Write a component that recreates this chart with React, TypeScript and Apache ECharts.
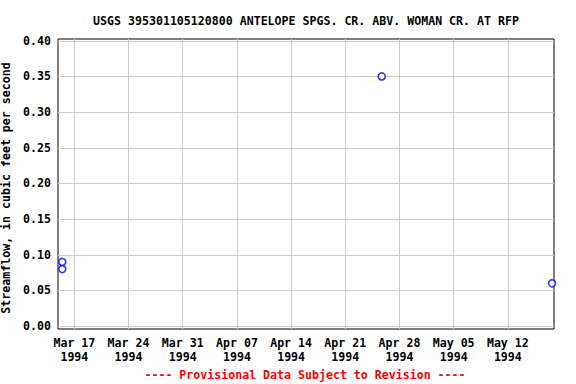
import React, { useEffect, useRef } from "react";
import * as echarts from "echarts";

const TITLE = "USGS 395301105120800 ANTELOPE SPGS. CR. ABV. WOMAN CR. AT RFP";
const Y_NAME = "Streamflow, in cubic feet per second";
const FOOTER = "---- Provisional Data Subject to Revision ----";

const obsTimes = ["1994-03-15T10:30:00Z", "1994-03-15T10:30:00Z", "1994-04-25T17:00:00Z", "1994-05-17T17:00:00Z"];
const obsValues = [0.09, 0.08, 0.35, 0.06];

const xTickDates = ["1994-03-17", "1994-03-24", "1994-03-31", "1994-04-07", "1994-04-14", "1994-04-21", "1994-04-28", "1994-05-05", "1994-05-12"];
const yTicks = [0, 0.05, 0.1, 0.15, 0.2, 0.25, 0.3, 0.35, 0.4];
const xRange = ["1994-03-14T21:17:00Z", "1994-05-17T23:07:00Z"];
const yRange = [-0.004, 0.4025];

const MONTHS = ["Jan", "Feb", "Mar", "Apr", "May", "Jun", "Jul", "Aug", "Sep", "Oct", "Nov", "Dec"];
const FONT = "DejaVu Sans Mono";

export default function App() {
  const ref = useRef<HTMLDivElement>(null);
  useEffect(() => {
    const chart = echarts.init(ref.current!, null, { renderer: "svg" });
    const xTickVals = xTickDates.map((d) => Date.parse(d + "T00:00:00Z"));
    chart.setOption({
      animation: false,
      backgroundColor: "#fff",
      textStyle: { fontFamily: FONT },
      graphic: [
        {
          type: "text",
          x: 306,
          y: 20.5,
          style: {
            text: TITLE,
            fill: "#000",
            font: `bold 11.6px "${FONT}"`,
            textAlign: "center",
            textVerticalAlign: "middle",
          },
        },
        {
          type: "text",
          x: 305,
          y: 375,
          style: {
            text: FOOTER,
            fill: "#ff0000",
            font: `bold 11.6px "${FONT}"`,
            textAlign: "center",
            textVerticalAlign: "middle",
          },
        },
      ],
      grid: {
        left: 58,
        top: 39,
        width: 496,
        height: 290,
        show: true,
        borderColor: "#000",
        borderWidth: 1,
        backgroundColor: "transparent",
        containLabel: false,
        outerBoundsMode: "none",
      },
      xAxis: {
        type: "value",
        min: Date.parse(xRange[0]),
        max: Date.parse(xRange[1]),
        axisLine: { show: false },
        axisTick: { show: false, customValues: xTickVals },
        splitLine: { show: true, lineStyle: { color: "#cccccc", width: 1 } },
        axisLabel: {
          customValues: xTickVals,
          margin: 7,
          fontFamily: FONT,
          fontSize: 11.6,
          fontWeight: "bold",
          color: "#000",
          lineHeight: 14,
          hideOverlap: false,
          formatter: (v: number) => {
            const d = new Date(v);
            const dd = String(d.getUTCDate()).padStart(2, "0");
            return `${MONTHS[d.getUTCMonth()]} ${dd}\n${d.getUTCFullYear()}`;
          },
        },
      },
      yAxis: {
        type: "value",
        min: yRange[0],
        max: yRange[1],
        name: Y_NAME,
        nameLocation: "middle",
        nameGap: 35,
        nameTextStyle: { fontFamily: FONT, fontSize: 11.6, fontWeight: "bold", color: "#000", padding: [0, 8, 0, 0] },
        axisLine: { show: false },
        axisTick: { show: false, customValues: yTicks },
        splitLine: { show: true, lineStyle: { color: "#cccccc", width: 1 } },
        axisLabel: {
          customValues: yTicks,
          margin: 7,
          fontFamily: FONT,
          fontSize: 11.6,
          fontWeight: "bold",
          color: "#000",
          formatter: (v: number) => v.toFixed(2),
        },
      },
      series: [
        {
          type: "scatter",
          data: obsTimes.map((t, i) => [Date.parse(t), obsValues[i]]),
          symbol: "circle",
          symbolSize: 7,
          itemStyle: { color: "#fff", borderColor: "#0000ff", borderWidth: 1.6 },
        },
      ],
    });
    return () => chart.dispose();
  }, []);
  return <div ref={ref} style={{ width: 576, height: 384, position: "absolute", left: 0, top: 0 }} />;
}
